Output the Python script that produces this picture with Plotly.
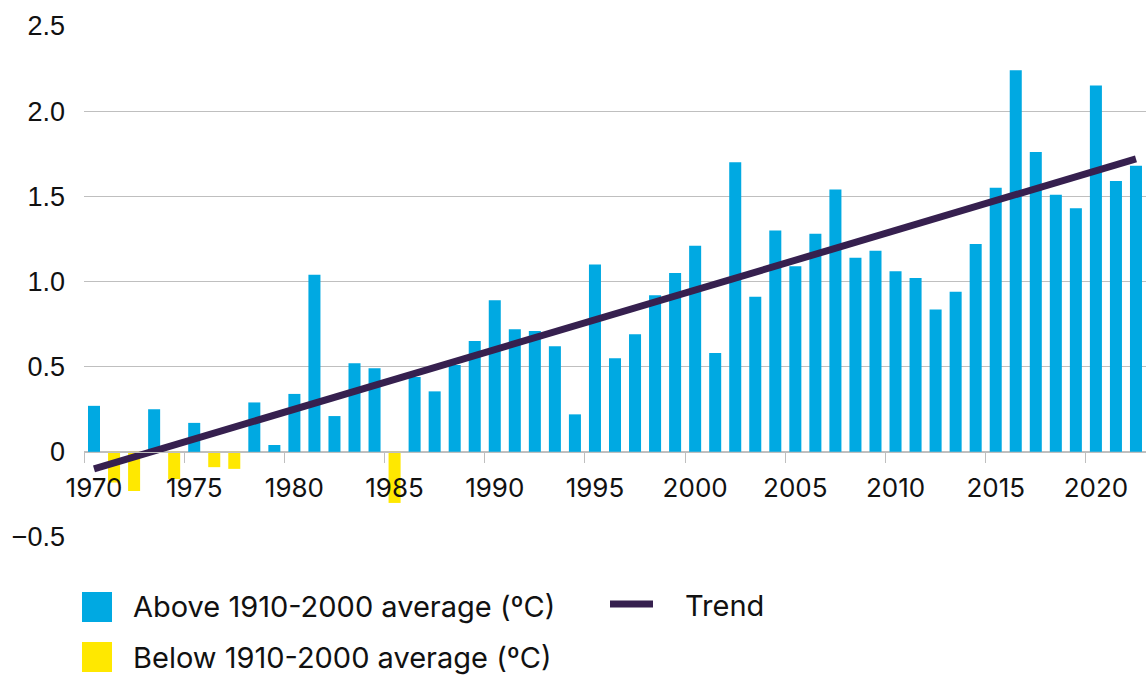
import plotly.graph_objects as go

years = list(range(1970, 2023))
anomaly = [
    0.27, -0.18, -0.23, 0.25, -0.16, 0.17, -0.09, -0.10, 0.29, 0.04,
    0.34, 1.04, 0.21, 0.52, 0.49, -0.30, 0.44, 0.355, 0.51, 0.65,
    0.89, 0.72, 0.71, 0.62, 0.22, 1.10, 0.55, 0.69, 0.92, 1.05,
    1.21, 0.58, 1.70, 0.91, 1.30, 1.09, 1.28, 1.54, 1.14, 1.18,
    1.06, 1.02, 0.835, 0.94, 1.22, 1.55, 2.24, 1.76, 1.51, 1.43,
    2.15, 1.59, 1.68,
]
trend_years = [1970, 2022]
trend_values = [-0.10, 1.72]
y_ticks = [-0.5, 0, 0.5, 1.0, 1.5, 2.0, 2.5]
y_ticktext = ["\u22120.5", "0", "0.5", "1.0", "1.5", "2.0", "2.5"]

label_above = "Above 1910-2000 average (\u00baC)"
label_below = "Below 1910-2000 average (\u00baC)"
label_trend = "Trend"

BLUE = "#00A9E2"
YELLOW = "#FFE800"
PURPLE = "#36204F"
GRID = "#BFBFBF"
TEXT = "#111111"

cats = [str(y) for y in years]
above = [v if v >= 0 else None for v in anomaly]
below = [v if v < 0 else None for v in anomaly]

fig = go.Figure()
fig.add_trace(go.Bar(x=cats, y=above, name=label_above, marker_color=BLUE,
                     marker_line_width=0, showlegend=False))
fig.add_trace(go.Bar(x=cats, y=below, name=label_below, marker_color=YELLOW,
                     marker_line_width=0, showlegend=False))
fig.add_trace(go.Scatter(x=[str(y) for y in trend_years], y=trend_values,
                         mode="lines", name=label_trend,
                         line=dict(color=PURPLE, width=7), showlegend=False))

W, H = 1148, 675
L, R, T, B = 84, 2, 26, 138
pw, ph = W - L - R, H - T - B

def px(x):
    return (x - L) / pw

def py(y):
    return (H - B - y) / ph

fig.update_layout(
    width=W, height=H,
    margin=dict(l=L, r=R, t=T, b=B),
    paper_bgcolor="white", plot_bgcolor="white",
    barmode="relative", bargap=0.4,
    font=dict(family="Inter", color=TEXT),
    xaxis=dict(
        type="category", range=[-0.5, len(cats) - 0.5],
        tickmode="linear", tick0=0, dtick=5, tickson="boundaries",
        ticks="outside", ticklen=10, tickcolor=GRID, tickwidth=1,
        tickangle=0,
        showgrid=False, showline=True, linecolor=GRID, linewidth=1,
        anchor="free", position=0.5 / 3.0,
        tickfont=dict(family="Inter", size=26, color=TEXT),
        ticklabelstandoff=13,
        zeroline=False,
    ),
    yaxis=dict(
        range=[-0.5, 2.5], tickmode="array", tickvals=y_ticks, ticktext=y_ticktext,
        showgrid=True, gridcolor=GRID, gridwidth=1, zeroline=False,
        tickfont=dict(family="Liberation Sans", size=27, color=TEXT),
        ticks="", ticklabelstandoff=18,
    ),
)

LEG_FONT = dict(family="Inter", size=29, color=TEXT)
shapes = [
    dict(type="rect", xref="paper", yref="paper", x0=px(82), x1=px(112),
         y0=py(622), y1=py(592), fillcolor=BLUE, line_width=0),
    dict(type="rect", xref="paper", yref="paper", x0=px(82), x1=px(112),
         y0=py(672), y1=py(642), fillcolor=YELLOW, line_width=0),
    dict(type="line", xref="paper", yref="paper", x0=px(610), x1=px(653),
         y0=py(604), y1=py(604), line=dict(color=PURPLE, width=7)),
]
annotations = [
    dict(text=label_above, xref="paper", yref="paper", x=px(131), y=py(606),
         xanchor="left", yanchor="middle", showarrow=False, font=LEG_FONT),
    dict(text=label_below, xref="paper", yref="paper", x=px(131), y=py(657),
         xanchor="left", yanchor="middle", showarrow=False, font=LEG_FONT),
    dict(text=label_trend, xref="paper", yref="paper", x=px(683), y=py(605),
         xanchor="left", yanchor="middle", showarrow=False, font=LEG_FONT),
]
fig.update_layout(shapes=shapes, annotations=annotations)

fig.write_html("out.html", config={"displayModeBar": False},
               post_script="document.body.style.margin='0';")
